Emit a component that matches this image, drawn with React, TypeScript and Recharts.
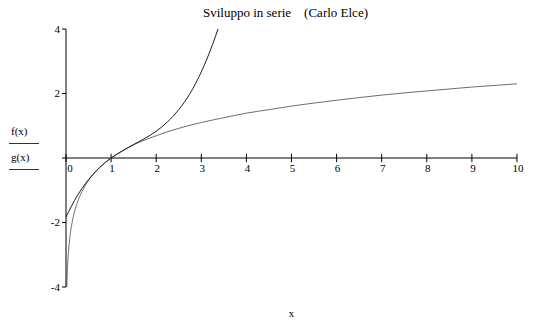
import { LineChart, Line, XAxis, YAxis, ReferenceLine } from "recharts";

// f(x): logarithm
const fX = [0.018, 0.02, 0.025, 0.03, 0.04, 0.05, 0.065, 0.08, 0.1, 0.12, 0.15, 0.18, 0.22, 0.25, 0.3, 0.35, 0.42, 0.5, 0.6, 0.7, 0.85, 1, 1.15, 1.3, 1.5, 1.7, 2, 2.2, 2.5, 3, 3.5, 4, 4.5, 5, 6, 7, 8, 9, 10];
const fY = [-4.0, -3.91, -3.69, -3.51, -3.22, -3.0, -2.73, -2.53, -2.3, -2.12, -1.9, -1.71, -1.51, -1.39, -1.2, -1.05, -0.87, -0.69, -0.51, -0.36, -0.16, 0, 0.14, 0.26, 0.41, 0.53, 0.69, 0.79, 0.92, 1.1, 1.25, 1.39, 1.5, 1.61, 1.79, 1.95, 2.08, 2.2, 2.3];

// g(x): series expansion
const gX = [0, 0.25, 0.5, 0.75, 1, 1.25, 1.5, 1.75, 2, 2.25, 2.5, 2.75, 3, 3.25, 3.37];
const gY = [-1.83, -1.17, -0.67, -0.29, 0, 0.22, 0.42, 0.61, 0.83, 1.12, 1.5, 2.0, 2.67, 3.52, 4.0];

const seriesNames = ["f(x)", "g(x)"];
const xTicks = [0, 1, 2, 3, 4, 5, 6, 7, 8, 9, 10];
const yTicks = [-4, -2, 0, 2, 4];

const fData = fX.map((x, i) => ({ x, y: fY[i] }));
const gData = gX.map((x, i) => ({ x, y: gY[i] }));

const FONT = "'Liberation Serif', 'Times New Roman', serif";

export default function App() {
  return (
    <div style={{ position: "relative", width: 548, height: 325, background: "#fff" }}>
      <style>{`body{margin:0}`}</style>
      <div
        style={{
          position: "absolute",
          left: 203,
          top: 5,
          fontFamily: FONT,
          fontSize: 13,
          whiteSpace: "pre",
          color: "#000",
        }}
      >
        {"Sviluppo in serie    (Carlo Elce)"}
      </div>
      {/* y-axis title: one entry per function, each underlined */}
      <div style={{ position: "absolute", left: 9, top: 125, width: 30, fontFamily: FONT, fontSize: 11, color: "#000" }}>
        {seriesNames.map((name) => (
          <div key={name} style={{ borderBottom: "1px solid #333", paddingLeft: 2, lineHeight: "12px", paddingBottom: 6, marginBottom: 7 }}>
            {name}
          </div>
        ))}
      </div>
      <LineChart width={548} height={325} margin={{ top: 29, right: 31, bottom: 5, left: 26 }}>
        <XAxis
          type="number"
          dataKey="x"
          domain={[0, 10]}
          ticks={xTicks}
          tick={false}
          axisLine={false}
          tickLine={false}
          height={33}
          allowDataOverflow
          label={{ value: "x", position: "insideBottom", offset: 3, style: { fontFamily: FONT, fontSize: 11, fill: "#000" } }}
        />
        <YAxis
          type="number"
          domain={[-4, 4]}
          ticks={yTicks}
          width={40}
          tickSize={4}
          tickMargin={2}
          interval={0}
          tickFormatter={(v: number) => (v === 0 ? "" : String(v))}
          axisLine={{ stroke: "#000" }}
          tickLine={{ stroke: "#000" }}
          tick={{ fontFamily: FONT, fontSize: 11, fill: "#000" }}
          allowDataOverflow
        />
        <ReferenceLine y={0} stroke="#000" />
        {xTicks.map((t) => (
          <ReferenceLine
            key={t}
            segment={[
              { x: t, y: -0.13 },
              { x: t, y: 0.13 },
            ]}
            stroke="#000"
            label={{
              content: (props: any) => {
                const vb = props.viewBox || {};
                return (
                  <text
                    x={vb.x + (t === 0 ? 4 : 1)}
                    y={vb.y + (vb.height || 0) + 10}
                    textAnchor="middle"
                    fontFamily={FONT}
                    fontSize={11}
                    fill="#000"
                  >
                    {t}
                  </text>
                );
              },
            }}
          />
        ))}
        <Line
          data={fData}
          dataKey="y"
          name="f(x)"
          type="monotone"
          stroke="#6e6e6e"
          strokeWidth={1}
          dot={false}
          isAnimationActive={false}
        />
        <Line
          data={gData}
          dataKey="y"
          name="g(x)"
          type="monotone"
          stroke="#1e1e1e"
          strokeWidth={1}
          dot={false}
          isAnimationActive={false}
        />
      </LineChart>
    </div>
  );
}
